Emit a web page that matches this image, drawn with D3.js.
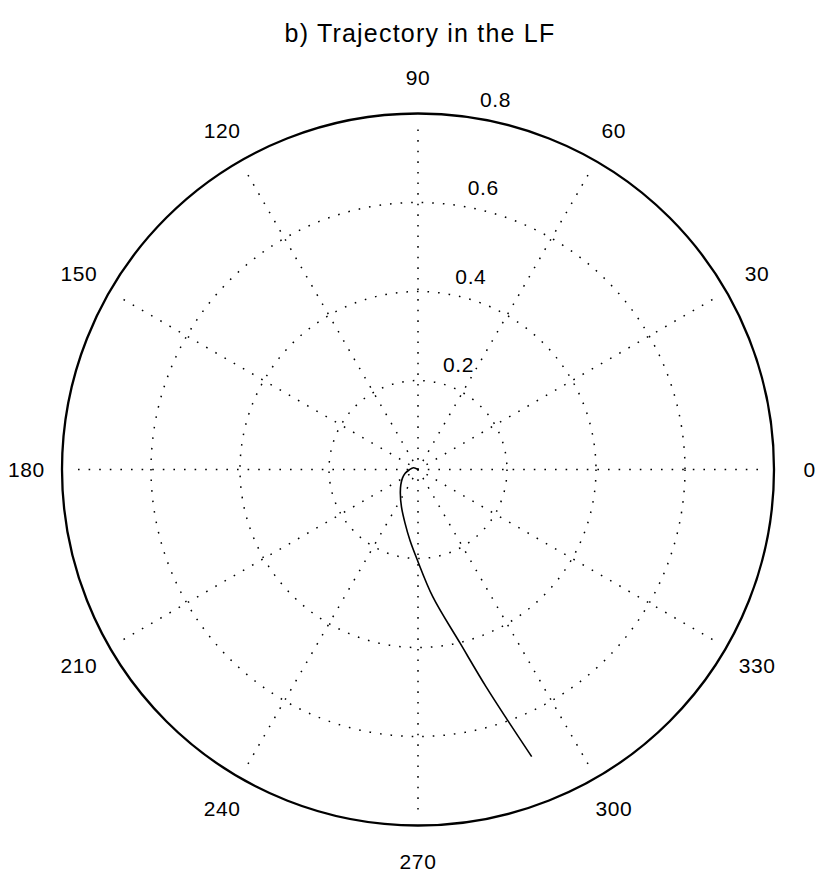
<!DOCTYPE html>
<html>
<head>
<meta charset="utf-8">
<script src="https://cdn.jsdelivr.net/npm/d3@7"></script>
<style>
  body { margin: 0; background: #fff; }
  svg text { font-family: "Liberation Sans", Arial, Helvetica, sans-serif; fill: #000; }
</style>
</head>
<body>
<svg id="chart" width="830" height="882"></svg>
<script>
// trajectory: angle in degrees, radius
var thetaDeg = [0, 159, 183, 196, 209, 222, 233, 246, 256.4, 263.5, 269.2, 276.7, 283.6, 287.4, 289.7, 291.6];
var radius   = [0, 0.011, 0.020, 0.030, 0.040, 0.052, 0.066, 0.0915, 0.124, 0.160, 0.200, 0.289, 0.401, 0.512, 0.600, 0.694];

var angleTicks  = [0, 30, 60, 90, 120, 150, 180, 210, 240, 270, 300, 330];
var radialTicks = [0.2, 0.4, 0.6];
var radialLabels = [0.2, 0.4, 0.6, 0.8];
var rMax = 0.8;
var title = "b) Trajectory in the LF";

var svg = d3.select("#chart");
var cx = 418, cy = 469.5, R = 356;

var r = d3.scaleLinear().domain([0, rMax]).range([0, R]);
var rad = function (deg) { return deg * Math.PI / 180; };

var g = svg.append("g").attr("transform", "translate(" + cx + "," + cy + ")");

// dotted spokes
g.selectAll("line.spoke")
  .data(angleTicks)
  .enter().append("line")
    .attr("class", "spoke")
    .attr("x1", 0).attr("y1", 0)
    .attr("x2", function (d) { return (R - 8) * Math.cos(rad(d)); })
    .attr("y2", function (d) { return -(R - 8) * Math.sin(rad(d)); })
    .attr("stroke", "#000")
    .attr("stroke-width", 1.5)
    .attr("stroke-dasharray", "1.6 9")
    .attr("stroke-dashoffset", 0.8);

// dotted rings
g.selectAll("circle.ring")
  .data(radialTicks)
  .enter().append("circle")
    .attr("class", "ring")
    .attr("r", function (d) { return r(d); })
    .attr("fill", "none")
    .attr("stroke", "#000")
    .attr("stroke-width", 1.5)
    .attr("stroke-dasharray", "1.6 9");

// outer boundary
g.append("circle")
  .attr("r", r(rMax))
  .attr("fill", "none")
  .attr("stroke", "#000")
  .attr("stroke-width", 2.3);

// angle labels
g.selectAll("text.ang")
  .data(angleTicks)
  .enter().append("text")
    .attr("class", "ang")
    .attr("x", function (d) { return r(rMax) * 1.1 * Math.cos(rad(d)); })
    .attr("y", function (d) { return -r(rMax) * 1.1 * Math.sin(rad(d)); })
    .attr("dy", "0.36em")
    .attr("text-anchor", "middle")
    .style("font-size", "21px")
    .style("letter-spacing", "0.6px")
    .text(function (d) { return d; });

// radial labels
g.selectAll("text.rlab")
  .data(radialLabels)
  .enter().append("text")
    .attr("class", "rlab")
    .attr("x", function (d) { return 12.7 + r(d) * 0.1386; })
    .attr("y", function (d) { return -9.2 - r(d) * 0.9925; })
    .style("font-size", "21px")
    .style("letter-spacing", "0.6px")
    .text(function (d) { return d; });

// trajectory
var pts = thetaDeg.map(function (t, i) { return [t, radius[i]]; });
var line = d3.lineRadial()
  .angle(function (d) { return rad(90 - d[0]); })
  .radius(function (d) { return r(d[1]); })
  .curve(d3.curveCatmullRom);

g.append("path")
  .datum(pts)
  .attr("d", line)
  .attr("fill", "none")
  .attr("stroke", "#000")
  .attr("stroke-width", 1.6);

// title
svg.append("text")
  .attr("x", 420)
  .attr("y", 42)
  .attr("text-anchor", "middle")
  .style("font-size", "25px")
  .style("letter-spacing", "1.2px")
  .text(title);
</script>
</body>
</html>
